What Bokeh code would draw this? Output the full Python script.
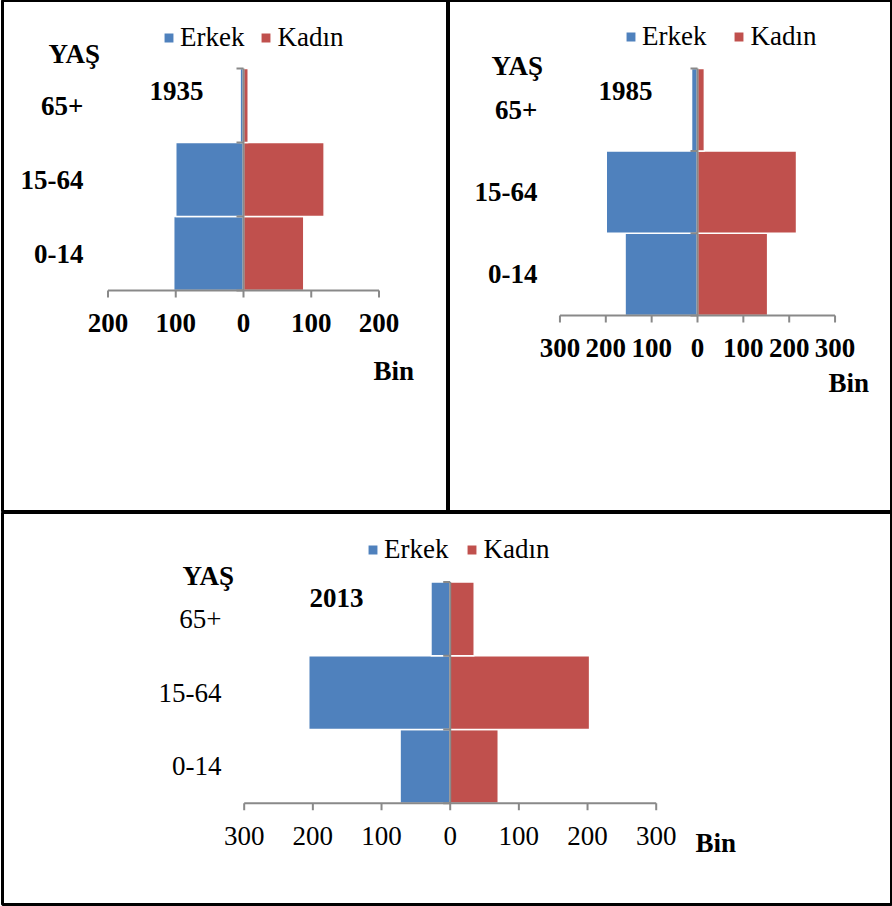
from bokeh.plotting import figure
from bokeh.models import Range1d, ColumnDataSource, Legend, LegendItem
from bokeh.layouts import column, row
from bokeh.embed import file_html
from bokeh.resources import INLINE
from bokeh.core.properties import value

# ---------------- data ----------------
categories = ["0-14", "15-64", "65+"]
erkek_1935 = [103, 100, 5]
kadin_1935 = [89, 119, 7]
erkek_1985 = [158, 199, 13]
kadin_1985 = [153, 216, 15]
erkek_2013 = [73, 206, 28]
kadin_2013 = [70, 203, 35]
ticks_1935 = [-200, -100, 0, 100, 200]
tick_labels_1935 = ["200", "100", "0", "100", "200"]
ticks_wide = [-300, -200, -100, 0, 100, 200, 300]
tick_labels_wide = ["300", "200", "100", "0", "100", "200", "300"]
years = ["1935", "1985", "2013"]
legend_labels = ["Erkek", "Kadın"]
age_title = "YAŞ"
unit_label = "Bin"

BLUE = "#4F81BD"
RED = "#C0504D"
AXIS = "#898989"
FONT = "Liberation Serif"
FS = "27px"


def make_panel(W, H, cx, axis_y, px100, cat_px, erkek, kadin, ticks, tick_labels, year, cfg,
               inset_left=0, inset_bottom=0):
    upx = px100 / 100.0
    fw = W - inset_left
    fh = H - inset_bottom
    x0 = -(cx - inset_left) / upx
    x1 = (W - cx) / upx
    y0 = -0.5 - (fh - axis_y) / cat_px
    y1 = -0.5 + axis_y / cat_px

    def X(px):
        return (px - cx) / upx

    def Y(py):
        return -0.5 + (axis_y - py) / cat_px

    p = figure(width=W, height=H, x_range=Range1d(x0, x1), y_range=Range1d(y0, y1),
               output_backend="svg", toolbar_location=None, min_border=0,
               min_border_left=inset_left, min_border_bottom=inset_bottom,
               x_axis_location=None, y_axis_location=None)
    p.grid.visible = False
    p.outline_line_color = "black"
    p.outline_line_width = 3
    p.background_fill_color = "white"
    p.border_fill_color = "white"

    ys = list(range(len(categories)))
    src = ColumnDataSource(dict(y=ys, cat=categories,
                                erkek_left=[-v for v in erkek], kadin=kadin))
    r_e = p.hbar(y="y", left="erkek_left", right=0, height=1, source=src,
                 fill_color=BLUE, line_color="white", line_width=1.5)
    r_k = p.hbar(y="y", left=0, right="kadin", height=1, source=src,
                 fill_color=RED, line_color="white", line_width=1.5)

    base = -0.5
    n = len(ticks)
    # horizontal value axis
    p.segment(x0=[ticks[0]], y0=[base], x1=[ticks[-1]], y1=[base],
              line_color=AXIS, line_width=2)
    p.segment(x0=ticks, y0=[base] * n, x1=ticks, y1=[base - 7 / cat_px] * n,
              line_color=AXIS, line_width=2)
    # vertical category axis at zero
    bounds = [i - 0.5 for i in range(len(categories) + 1)]
    p.segment(x0=[0], y0=[bounds[0]], x1=[0], y1=[bounds[-1]],
              line_color=AXIS, line_width=2)
    p.segment(x0=[-7 / upx] * len(bounds), y0=bounds, x1=[0] * len(bounds), y1=bounds,
              line_color=AXIS, line_width=2)

    # tick labels
    p.text(x=ticks, y=[base] * n, text=tick_labels, y_offset=cfg["tick_off"],
           text_align="center", text_baseline="middle", text_font=value(FONT),
           text_font_size=FS, text_font_style=cfg["tick_style"], text_color="black")
    # category labels
    p.text(x=[X(cfg["cat_right"])] * len(ys), y=ys, text=categories,
           text_align="right", text_baseline="middle", text_font=value(FONT),
           text_font_size=FS, text_font_style=cfg["cat_style"], text_color="black")
    # YAŞ, year, Bin
    p.text(x=[X(cfg["yas"][0]), X(cfg["year"][0]), X(cfg["bin"][0])],
           y=[Y(cfg["yas"][1]), Y(cfg["year"][1]), Y(cfg["bin"][1])],
           text=[age_title, year, unit_label],
           text_align="left", text_baseline="middle", text_font=value(FONT),
           text_font_size=FS, text_font_style="bold", text_color="black")

    legend = Legend(items=[LegendItem(label=value(legend_labels[0]), renderers=[r_e]),
                           LegendItem(label=value(legend_labels[1]), renderers=[r_k])],
                    orientation="horizontal",
                    location=(cfg["leg"][0] - inset_left, fh - cfg["leg"][1] - 15),
                    label_text_font=FONT, label_text_font_size=FS,
                    label_text_color="black",
                    glyph_width=13, glyph_height=13, label_standoff=5,
                    label_height=30, spacing=cfg["leg_spacing"], padding=0, margin=0,
                    border_line_color=None, background_fill_alpha=0)
    p.add_layout(legend)
    return p


p1 = make_panel(448, 512, 243, 290, 67.75, 74, erkek_1935, kadin_1935,
                ticks_1935, tick_labels_1935, years[0],
                dict(tick_off=32, tick_style="bold", cat_style="bold", cat_right=83,
                     yas=(48, 53), year=(149, 90), bin=(373, 370),
                     leg=(162, 38), leg_spacing=15),
                inset_left=2)
p2 = make_panel(444, 512, 249, 315, 45.85, 82.3, erkek_1985, kadin_1985,
                ticks_wide, tick_labels_wide, years[1],
                dict(tick_off=32, tick_style="bold", cat_style="bold", cat_right=89,
                     yas=(43, 65), year=(150, 90), bin=(380, 382),
                     leg=(176, 37), leg_spacing=26))
p3 = make_panel(892, 394, 449.7, 290.7, 68.67, 73.7, erkek_2013, kadin_2013,
                ticks_wide, tick_labels_wide, years[2],
                dict(tick_off=33, tick_style="normal", cat_style="normal", cat_right=221,
                     yas=(182, 63), year=(309, 85), bin=(695, 330),
                     leg=(366, 38), leg_spacing=17),
                inset_left=2, inset_bottom=2)

layout = column(row(p1, p2), p3)
open("out.html", "w").write(file_html(layout, INLINE))
